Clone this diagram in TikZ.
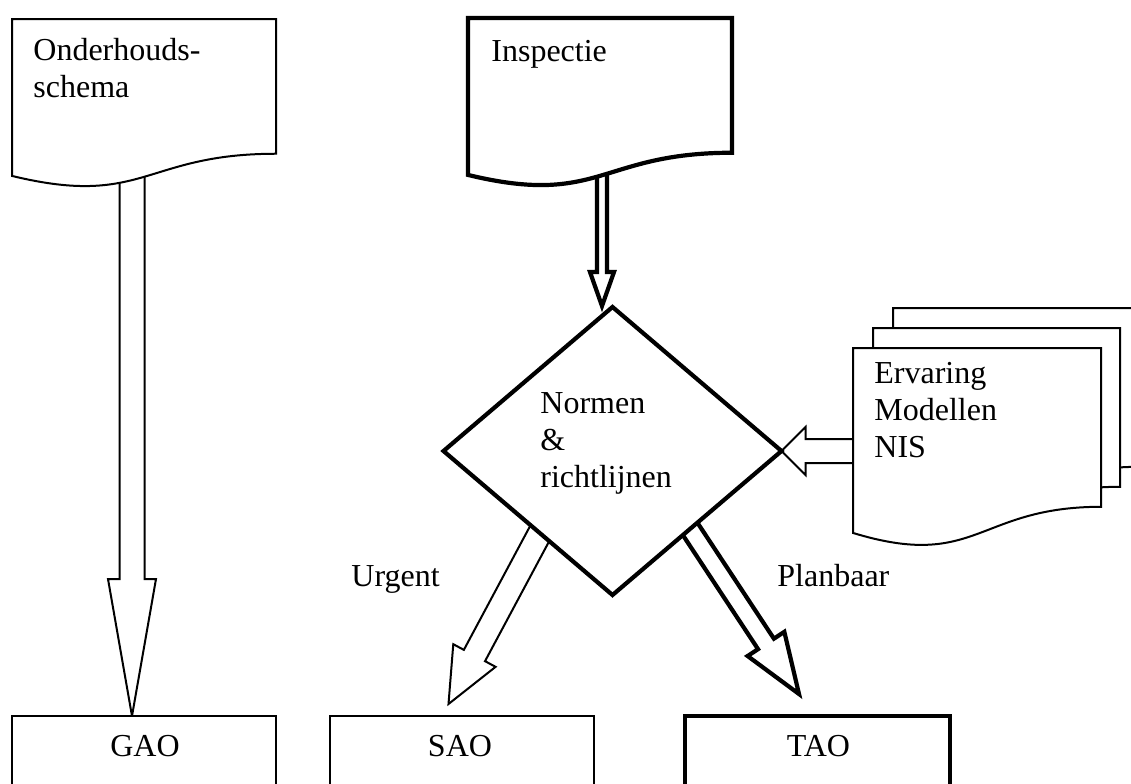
\documentclass[tikz,border=0pt]{standalone}
\usepackage{fontspec}
\setmainfont{Liberation Serif}
\usetikzlibrary{shapes.geometric,calc,backgrounds}

\tikzset{
  lnthin/.style={line width=1pt},
  lnthick/.style={line width=2.1pt},
  docthin/.style={draw, lnthin, fill=white},
  docthick/.style={draw, lnthick, fill=white},
  arrthin/.style={draw, lnthin, fill=white, line join=miter},
  arrthick/.style={draw, lnthick, fill=white, line join=miter},
  box/.style={draw, rectangle, fill=white, inner sep=0pt, outer sep=0pt,
              minimum width=132pt, minimum height=60pt, anchor=north west},
  txt/.style={font=\fontsize{16}{18.5}\selectfont, inner sep=0pt, align=left},
}

% flowchart "document" sheet: style, left, top, width, height (in px units)
\newcommand\docsheet[5]{%
  \path[#1] (#2,#3) -- ({#2+#4},#3) -- ({#2+#4},{#3+0.802*#5})
    .. controls ({#2+0.5*#4},{#3+0.802*#5}) and ({#2+0.5*#4},{#3+1.125*#5})
    .. (#2,{#3+0.934*#5}) -- cycle;}

% block arrow: style, from, tip, half shaft, half head, head length
\newcommand\blockarrow[6]{%
  \coordinate (bahead) at ($(#3)!#6!(#2)$);
  \path[#1] ($(#2)!#4!90:(#3)$) -- ($(bahead)!#4!90:(#3)$)
    -- ($(bahead)!#5!90:(#3)$) -- (#3)
    -- ($(bahead)!#5!-90:(#3)$) -- ($(bahead)!#4!-90:(#3)$)
    -- ($(#2)!#4!-90:(#3)$);}

\begin{document}
\begin{tikzpicture}[x=0.5pt, y=-0.5pt]
  \clip (0,0) rectangle (1131,783);

  % source documents
  \docsheet{docthin}{12}{19}{264}{168}
  \node[txt, anchor=base west] (onderhouds) at (33,97) {Onderhouds-\\schema};
  \coordinate (ohbot) at (132,170);

  \docsheet{docthick}{468}{18}{264}{168}
  \node[txt, anchor=base west] (inspectie) at (491,61) {Inspectie};
  \coordinate (inbot) at (602,170);

  % stacked documents
  \docsheet{docthin}{893}{308}{247}{198}
  \docsheet{docthin}{873}{328}{247}{198}
  \docsheet{docthin}{853}{348}{248}{198}
  \node[txt, anchor=base west] (ervaring) at (874,457) {Ervaring\\Modellen\\NIS};
  \coordinate (erleft) at (870,451);

  % decision
  \node[diamond, draw, lnthick, fill=white, inner sep=0pt, outer sep=0pt,
        minimum width=169pt, minimum height=144pt] (dia) at (612.5,451) {};
  \node[txt, anchor=base west] (normen) at (540,487) {Normen\\\&\\richtlijnen};
  \coordinate (urgstart) at (548,518);
  \coordinate (plnstart) at (681,515);

  % work orders
  \node[box, lnthin] (gao) at (12,716) {};
  \node[box, lnthin] (sao) at (330,716) {};
  \node[box, lnthick, minimum width=132.5pt] (tao) at (685,716) {};
  \node[txt, anchor=base] (gaolbl) at ($(gao.north)+(1,40)$) {GAO};
  \node[txt, anchor=base] (saolbl) at ($(sao.north)+(-2,40)$) {SAO};
  \node[txt, anchor=base] (taolbl) at ($(tao.north)+(1,40)$) {TAO};

  % branch labels
  \node[txt, anchor=base west] (urgent) at (351,586) {Urgent};
  \node[txt, anchor=base west] (planbaar) at (777,586) {Planbaar};

  % arrow tips
  \coordinate (gaoin) at ($(gao.north)+(-12,0)$);
  \coordinate (diain) at ($(dia.north)+(-10.5,-1)$);
  \coordinate (saoin) at ($(sao.north)+(-13.5,-12)$);
  \coordinate (taoin) at ($(tao.north)+(-18.5,-22)$);

  \begin{pgfonlayer}{background}
    \blockarrow{arrthin}{ohbot}{gaoin}{6.25pt}{12pt}{68.5pt}
    \blockarrow{arrthick}{inbot}{diain}{2.5pt}{6pt}{17pt}
    \blockarrow{arrthin}{erleft}{dia.east}{6pt}{12pt}{12pt}
    \blockarrow{arrthin}{urgstart}{saoin}{6pt}{12pt}{27.5pt}
    \blockarrow{arrthick}{plnstart}{taoin}{4.75pt}{11pt}{30pt}
  \end{pgfonlayer}
\end{tikzpicture}
\end{document}
